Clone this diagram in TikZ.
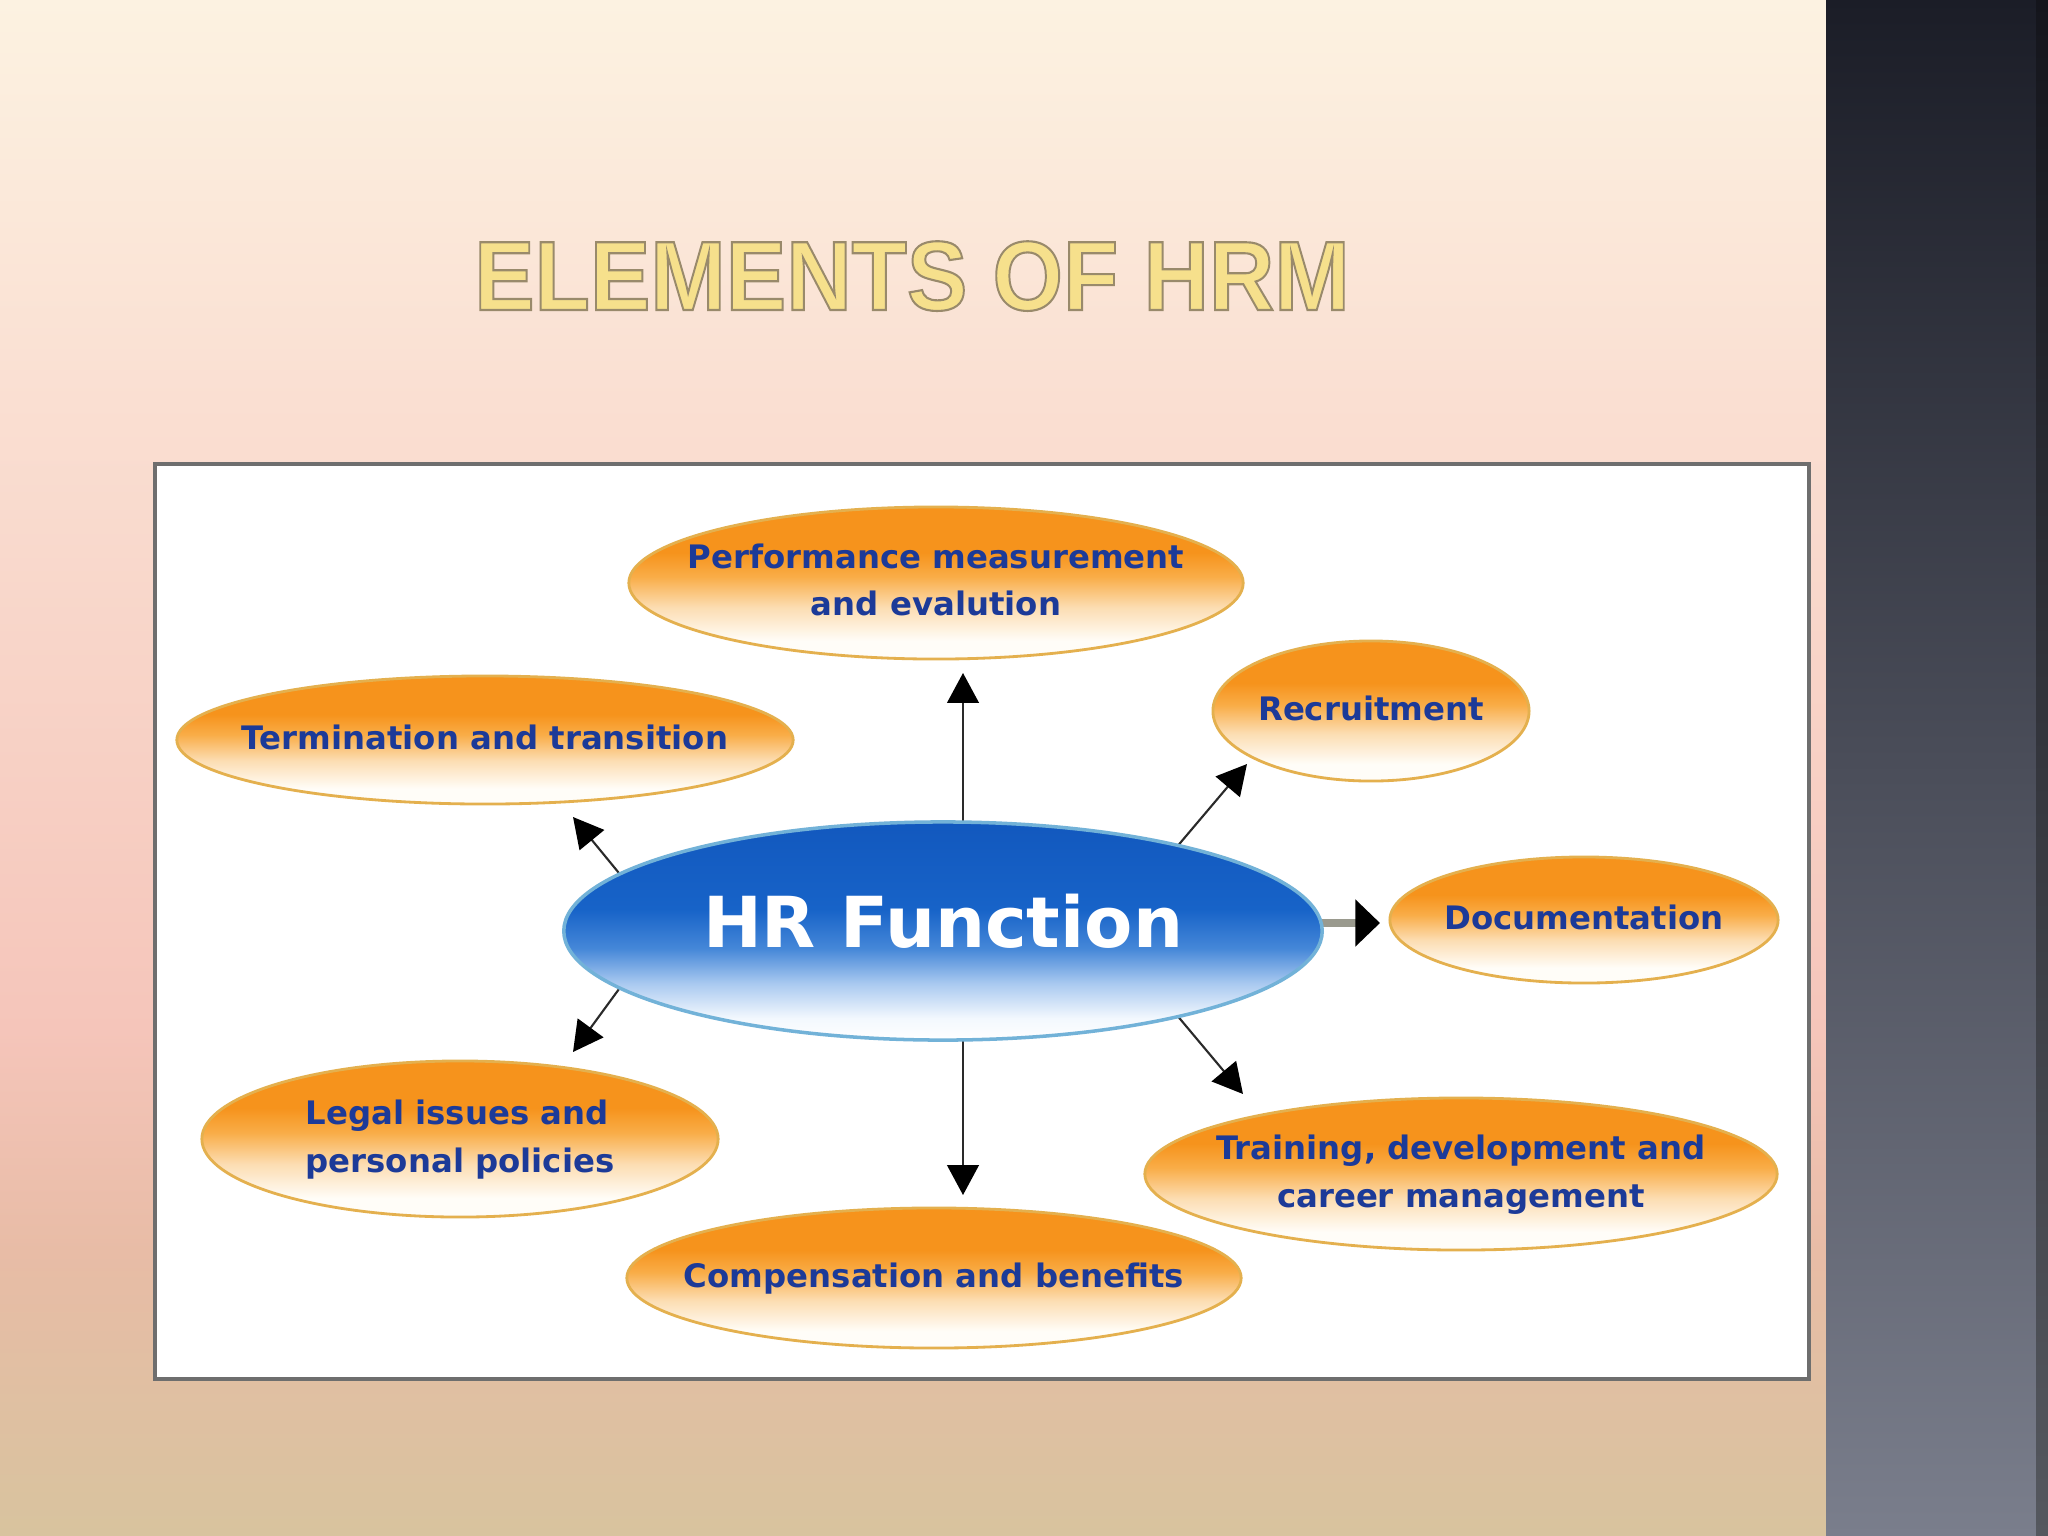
\documentclass[tikz,border=0pt]{standalone}
\usepackage{fontspec}
\usepackage{graphicx}
\setmainfont{DejaVu Sans}
\newfontfamily\titlefont{Liberation Sans}
\usetikzlibrary{arrows.meta,shapes.geometric,calc}

\definecolor{bgA}{HTML}{FCF2E1}
\definecolor{bgB}{HTML}{FADFD2}
\definecolor{bgC}{HTML}{F5C5BA}
\definecolor{bgD}{HTML}{E8BCA6}
\definecolor{bgE}{HTML}{D8C39E}
\definecolor{pnA}{HTML}{1B1D27}
\definecolor{pnB}{HTML}{474B58}
\definecolor{pnC}{HTML}{7A7E8C}
\definecolor{pnDA}{HTML}{14151C}
\definecolor{pnDC}{HTML}{55585F}
\definecolor{frameGray}{HTML}{6E6E6E}
\definecolor{orW}{HTML}{FFFDF8}
\definecolor{orL}{HTML}{FCDDB2}
\definecolor{orM}{HTML}{F9AD48}
\definecolor{orD}{HTML}{F6931C}
\definecolor{orLine}{HTML}{E4B04E}
\definecolor{hrW}{HTML}{F3F8FE}
\definecolor{hrL}{HTML}{A9C9F0}
\definecolor{hrM}{HTML}{4587D8}
\definecolor{hrD}{HTML}{1763C8}
\definecolor{hrT}{HTML}{1258BE}
\definecolor{hrLine}{HTML}{72B2D8}
\definecolor{txtBlue}{HTML}{1C3A98}
\definecolor{titleFill}{HTML}{F6E08C}
\definecolor{arrGray}{HTML}{2A2A2A}
\definecolor{docGray}{HTML}{9A9A8E}

\pgfdeclareverticalshading{orsh}{100bp}{color(0bp)=(orW); color(25bp)=(orW); color(31bp)=(orW); color(42bp)=(orL); color(52bp)=(orM); color(60bp)=(orD); color(75bp)=(orD); color(100bp)=(orD)}
\pgfdeclareverticalshading{hrsh}{100bp}{color(0bp)=(white); color(25bp)=(white); color(30bp)=(hrW); color(38bp)=(hrL); color(46bp)=(hrM); color(55bp)=(hrD); color(75bp)=(hrT); color(100bp)=(hrT)}

\pgfdeclarelayer{bgl}
\pgfdeclarelayer{arl}
\pgfsetlayers{bgl,arl,main}

\newcommand\ctext[1]{\makebox[0pt]{\begin{tabular}{@{}c@{}}#1\end{tabular}}}
\newcommand\ltext[1]{\makebox[0pt]{\begin{tabular}{@{}l@{}}#1\end{tabular}}}

\begin{document}
\begin{tikzpicture}[x=0.01cm,y=-0.01cm,
  orn/.style={ellipse, shade, shading=orsh, draw=orLine, line width=0.8pt, inner sep=0pt, outer sep=0pt,
    font=\fontsize{9.2}{13.4}\selectfont\bfseries, text=txtBlue},
  hrn/.style={ellipse, shade, shading=hrsh, draw=hrLine, line width=1pt, inner sep=0pt, outer sep=0pt,
    font=\fontsize{20}{24}\selectfont\bfseries, text=white},
  arr/.style={draw=arrGray, line width=0.6pt, -{Triangle[length=8.5pt,width=9pt,color=black]}},
  docarr/.style={draw=docGray, line width=2.2pt, -{Triangle[length=7pt,width=13pt,color=black]}}
]
\useasboundingbox (0,0) rectangle (2048,1536);

\begin{pgfonlayer}{bgl}
  \shade[top color=bgA, bottom color=bgB] (0,0) rectangle (1827,401);
  \shade[top color=bgB, bottom color=bgC] (0,400) rectangle (1827,1031);
  \shade[top color=bgC, bottom color=bgD] (0,1030) rectangle (1827,1251);
  \shade[top color=bgD, bottom color=bgE] (0,1250) rectangle (1827,1536);
  \shade[top color=pnA, middle color=pnB, bottom color=pnC] (1826,0) rectangle (2048,1536);
  \shade[top color=pnDA, bottom color=pnDC] (2036,0) rectangle (2048,1536);
  \draw[fill=white, draw=frameGray, line width=1.3pt] (155,464) rectangle (1809,1379);
\end{pgfonlayer}

\node[anchor=base, font=\titlefont\bfseries\fontsize{28}{30}\selectfont, text=titleFill, inner sep=0pt] (title) at (912,310)
  {\scalebox{0.92}[1]{\special{pdf:literal direct 0.6 0.54 0.42 RG 0.6 w 2 Tr}ELEMENTS OF HRM\special{pdf:literal direct 0 Tr}}};

\node[hrn, minimum width=7.58cm, minimum height=2.18cm] (hr) at (943,931) {\ctext{HR Function}};
\node[orn, minimum width=6.14cm, minimum height=1.52cm] (perf) at (936,583) {\ctext{Performance measurement\\and evalution}};
\node[orn, minimum width=6.16cm, minimum height=1.28cm] (term) at (485,740) {\ctext{Termination and transition}};
\node[orn, minimum width=3.16cm, minimum height=1.40cm] (recr) at (1371,711) {\ctext{Recruitment}};
\node[orn, minimum width=3.88cm, minimum height=1.26cm] (docu) at (1584,920) {\ctext{Documentation}};
\node[orn, minimum width=5.16cm, minimum height=1.56cm] (legal) at (460,1139) {\ltext{Legal issues and\\personal policies}};
\node[orn, minimum width=6.32cm, minimum height=1.52cm] (train) at (1461,1174) {\ctext{Training, development and\\career management}};
\node[orn, minimum width=6.14cm, minimum height=1.40cm] (comp) at (934,1278) {\ctext{Compensation and benefits}};

\coordinate (tUp) at (963,673);
\coordinate (tDn) at (963,1195);
\coordinate (tRec) at (1247,764);
\coordinate (tTerm) at (573,817);
\coordinate (tLeg) at (573,1052);
\coordinate (tTrn) at (1243,1094);
\coordinate (tDoc) at (1380,923);

\begin{pgfonlayer}{arl}
  \draw[arr] (hr.center -| tUp) -- (tUp);
  \draw[arr] (hr.center -| tDn) -- (tDn);
  \draw[arr] (hr.20) -- (tRec);
  \draw[arr] (hr.170) -- (tTerm);
  \draw[arr] (hr.190) -- (tLeg);
  \draw[arr] (hr.340) -- (tTrn);
  \draw[docarr] (hr.center |- tDoc) -- (tDoc);
\end{pgfonlayer}
\end{tikzpicture}
\end{document}
